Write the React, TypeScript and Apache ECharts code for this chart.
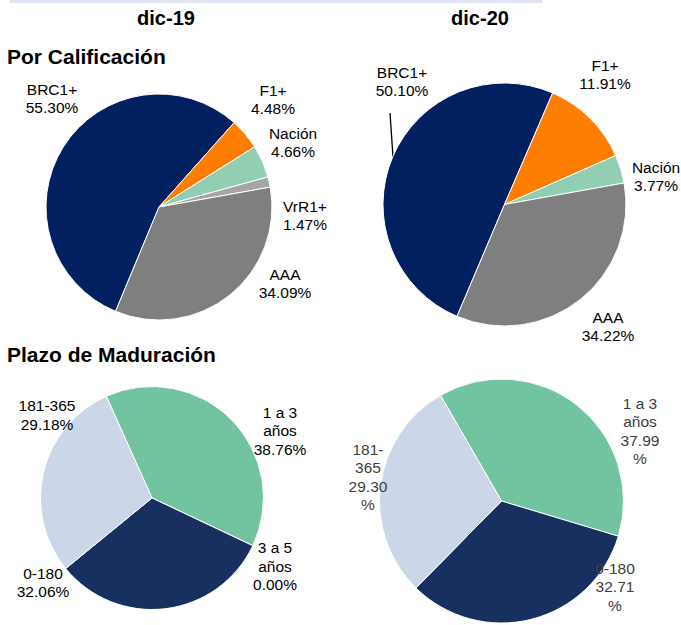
import React, { useEffect, useRef } from "react";
import * as echarts from "echarts";

// ---- Data ----
const ratingNames = ["BRC1+", "F1+", "Nación", "VrR1+", "AAA"];
const rating19 = [55.3, 4.48, 4.66, 1.47, 34.09];
const ratingNames20 = ["BRC1+", "F1+", "Nación", "AAA"];
const rating20 = [50.1, 11.91, 3.77, 34.22];
const termNames19 = ["1 a 3 años", "3 a 5 años", "0-180", "181-365"];
const term19 = [38.76, 0.0, 32.06, 29.18];
const termNames20 = ["1 a 3 años", "0-180", "181-365"];
const term20 = [37.99, 32.71, 29.3];
const periodTitles = ["dic-19", "dic-20"];
const sectionTitles = ["Por Calificación", "Plazo de Maduración"];

// ---- Styles / layout ----
const FONT = "'Liberation Sans', Arial, Helvetica, sans-serif";
const ratingColors19 = ["#00205f", "#ff7d00", "#92cfb2", "#a5a5a5", "#7f7f7f"];
const ratingColors20 = ["#00205f", "#ff7d00", "#92cfb2", "#7f7f7f"];
const termColors19 = ["#72c4a1", "#72c4a1", "#17305f", "#cbd6e8"];
const termColors20 = ["#72c4a1", "#17305f", "#cbd6e8"];

const labelPos1 = [[52, 98], [273, 99], [293, 142.5], [305, 215.5], [285, 283.5]];
const labelPos2 = [[402, 81], [605, 74], [656, 176], [608, 326]];
const labelPos3 = [[280, 430.5], [275, 566], [43, 582.5], [47, 415]];
const labelPos4 = [[640, 431], [615, 586.5], [368, 477]];

const pct = (v: number) => v.toFixed(2);

function makePie(opts: {
  names: string[];
  values: number[];
  colors: string[];
  center: [number, number];
  radius: number;
  startAngle: number;
  pos: number[][];
  formatter: (name: string, v: number) => string;
  textColor: string;
  lineH: number;
  leader?: { index: number; points: number[][] };
}) {
  return {
    type: "pie",
    center: opts.center,
    radius: opts.radius,
    startAngle: opts.startAngle,
    clockwise: true,
    avoidLabelOverlap: false,
    silent: true,
    emphasis: { disabled: true },
    itemStyle: { borderColor: "#ffffff", borderWidth: 1 },
    label: {
      show: true,
      position: "outside",
      fontFamily: FONT,
      fontSize: 15.5,
      lineHeight: opts.lineH,
      color: opts.textColor,
      align: "center",
      formatter: (p: any) => opts.formatter(p.name, p.value),
    },
    labelLine: { show: false },
    labelLayout: (p: any) => {
      const pt = opts.pos[p.dataIndex];
      const res: any = { x: pt[0], y: pt[1], align: "center", verticalAlign: "middle" };
      if (opts.leader && opts.leader.index === p.dataIndex) {
        res.labelLinePoints = opts.leader.points;
      }
      return res;
    },
    data: opts.names.map((n, i) => ({
      name: n,
      value: opts.values[i],
      itemStyle: { color: opts.colors[i] },
      labelLine:
        opts.leader && opts.leader.index === i
          ? { show: true, lineStyle: { color: "#000000", width: 1.3 } }
          : { show: false },
    })),
  };
}

export default function App() {
  const ref = useRef<HTMLDivElement>(null);
  useEffect(() => {
    if (!ref.current) return;
    const chart = echarts.init(ref.current, null, { renderer: "svg" });
    const option: any = {
      animation: false,
      backgroundColor: "#ffffff",
      graphic: [
        { type: "rect", shape: { x: 10, y: 0, width: 532, height: 3 }, style: { fill: "#dde3ef" } },
        {
          type: "text", x: 166, y: 18,
          style: { text: periodTitles[0], font: `bold 20px ${FONT}`, fill: "#000", align: "center", verticalAlign: "middle" },
        },
        {
          type: "text", x: 480, y: 18,
          style: { text: periodTitles[1], font: `bold 20px ${FONT}`, fill: "#000", align: "center", verticalAlign: "middle" },
        },
        {
          type: "text", x: 7, y: 56,
          style: { text: sectionTitles[0], font: `bold 21px ${FONT}`, fill: "#000", align: "left", verticalAlign: "middle" },
        },
        {
          type: "text", x: 7, y: 354,
          style: { text: sectionTitles[1], font: `bold 21px ${FONT}`, fill: "#000", align: "left", verticalAlign: "middle" },
        },
      ],
      series: [
        makePie({
          names: ratingNames, values: rating19, colors: ratingColors19,
          center: [159, 207], radius: 113, startAngle: 247.4, pos: labelPos1,
          formatter: (n, v) => `${n}\n${pct(v)}%`, textColor: "#000000", lineH: 18,
        }),
        makePie({
          names: ratingNames20, values: rating20, colors: ratingColors20,
          center: [504.5, 204.5], radius: 121.5, startAngle: 247, pos: labelPos2,
          formatter: (n, v) => `${n}\n${pct(v)}%`, textColor: "#000000", lineH: 18,
          leader: { index: 0, points: [[393, 157], [391.5, 135], [390, 113]] },
        }),
        makePie({
          names: termNames19, values: term19, colors: termColors19,
          center: [152, 498], radius: 111.5, startAngle: 114.2, pos: labelPos3,
          formatter: (n, v) => `${n.replace(" años", "\naños")}\n${pct(v)}%`, textColor: "#000000", lineH: 18.5,
        }),
        makePie({
          names: termNames20, values: term20, colors: termColors20,
          center: [501.5, 501], radius: 122, startAngle: 120, pos: labelPos4,
          formatter: (n, v) => `${n.replace(" años", "\naños").replace("181-", "181-\n")}\n${pct(v)}\n%`,
          textColor: "#404040", lineH: 18.5,
        }),
      ],
    };
    chart.setOption(option);
    return () => chart.dispose();
  }, []);
  return (
    <div
      ref={ref}
      style={{ position: "fixed", left: 0, top: 0, width: 681, height: 625, background: "#fff" }}
    />
  );
}
